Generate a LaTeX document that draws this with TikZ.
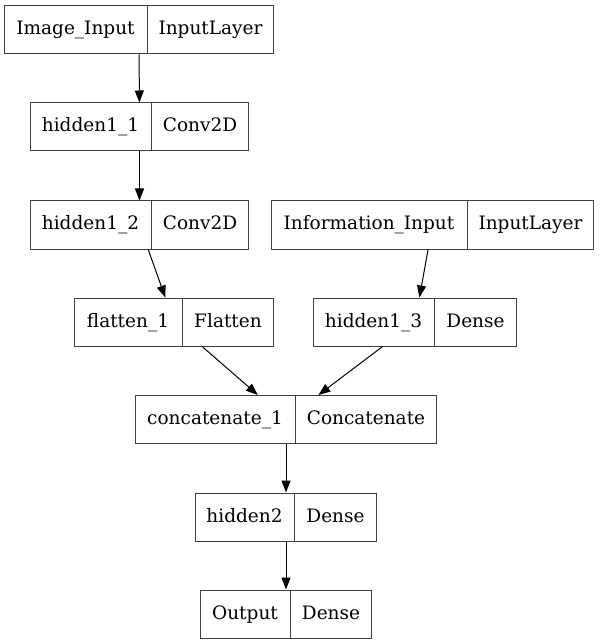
\documentclass[tikz,border=0pt]{standalone}
\usepackage{fontspec}
\setmainfont{DejaVu Serif}
\usetikzlibrary{arrows.meta,shapes.multipart}

\newcommand{\layercell}[2]{\parbox[c][48pt][c]{#1}{\centering\rule[-5pt]{0pt}{20pt}#2}}

\begin{document}
\begin{tikzpicture}[x=1pt,y=-1pt,
  layer/.style={draw=black!75,line width=1pt,rectangle split,rectangle split horizontal,
    rectangle split parts=2,inner sep=0pt,font=\fontsize{18.5}{20}\selectfont},
  flow/.style={-{Triangle[length=12pt,width=9pt]},line width=1pt}]
  \useasboundingbox (0,0) rectangle (599,644);
  \node[layer] (imgin) at (139,30) {\layercell{142pt}{Image\_Input}\nodepart{two}\layercell{126pt}{InputLayer}};
  \node[layer] (hidA) at (139.5,127) {\layercell{120pt}{hidden1\_1}\nodepart{two}\layercell{97pt}{Conv2D}};
  \node[layer] (hidB) at (139.5,225) {\layercell{120pt}{hidden1\_2}\nodepart{two}\layercell{97pt}{Conv2D}};
  \node[layer] (infoin) at (432.5,225) {\layercell{195pt}{Information\_Input}\nodepart{two}\layercell{126pt}{InputLayer}};
  \node[layer] (flat) at (174,322) {\layercell{107pt}{flatten\_1}\nodepart{two}\layercell{91pt}{Flatten}};
  \node[layer] (hidC) at (415,322) {\layercell{120pt}{hidden1\_3}\nodepart{two}\layercell{82pt}{Dense}};
  \node[layer] (concat) at (286,419.5) {\layercell{159pt}{concatenate\_1}\nodepart{two}\layercell{141pt}{Concatenate}};
  \node[layer] (hidD) at (286,517) {\layercell{98pt}{hidden2}\nodepart{two}\layercell{82pt}{Dense}};
  \node[layer] (out) at (286,614) {\layercell{89pt}{Output}\nodepart{two}\layercell{81pt}{Dense}};
  \draw[flow] (imgin) -- (hidA);
  \draw[flow] (hidA) -- (hidB);
  \draw[flow] (hidB) -- (flat);
  \draw[flow] (infoin) -- (hidC);
  \draw[flow] (flat) -- (concat);
  \draw[flow] (hidC) -- (concat);
  \draw[flow] (concat) -- (hidD);
  \draw[flow] (hidD) -- (out);
\end{tikzpicture}
\end{document}
